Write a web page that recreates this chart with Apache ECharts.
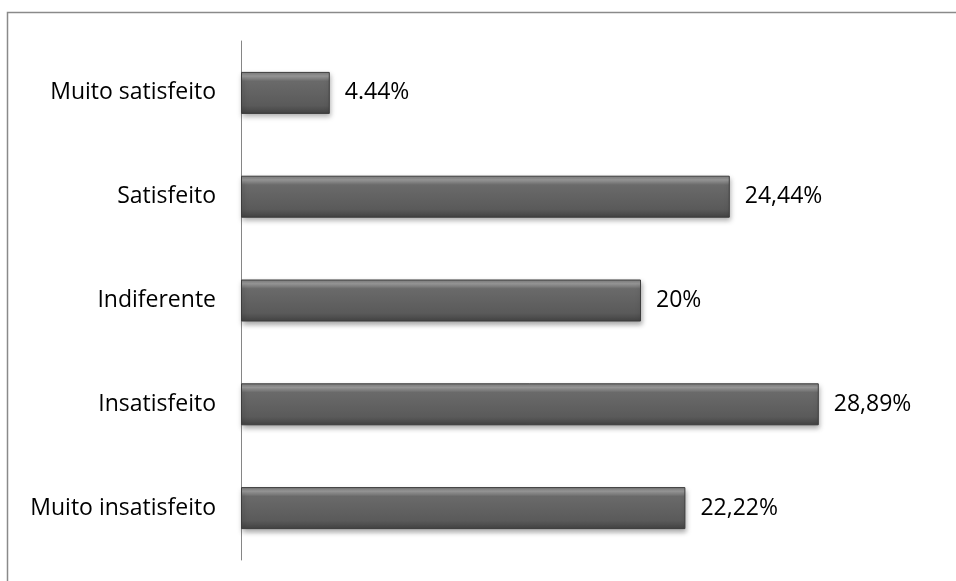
<!DOCTYPE html>
<html>
<head>
<meta charset="utf-8">
<script src="https://cdn.jsdelivr.net/npm/echarts@6/dist/echarts.min.js"></script>
<style>
html,body{margin:0;padding:0;background:#fff;}
#chart{width:956px;height:581px;}
</style>
</head>
<body>
<div id="chart"></div>
<script>
var categories = ["Muito insatisfeito", "Insatisfeito", "Indiferente", "Satisfeito", "Muito satisfeito"];
var values = [22.22, 28.89, 20, 24.44, 4.44];
var valueLabels = ["22,22%", "28,89%", "20%", "24,44%", "4.44%"];

var chart = echarts.init(document.getElementById('chart'));
var fontFam = '"Open Sans", Lato, sans-serif';
chart.setOption({
  animation: false,
  backgroundColor: '#ffffff',
  graphic: [{
    type: 'rect',
    shape: {x: 7.5, y: 12.5, width: 1200, height: 800},
    style: {fill: 'none', stroke: '#8a8a8a', lineWidth: 1.5},
    silent: true
  }],
  grid: {left: 241, top: 41, width: 600, height: 519},
  xAxis: {
    type: 'value', min: 0, max: 30, show: false
  },
  yAxis: {
    type: 'category',
    data: categories,
    axisLine: {show: true, lineStyle: {color: '#868686', width: 1}},
    axisTick: {show: false},
    axisLabel: {color: '#000', fontSize: 23, fontFamily: fontFam, margin: 25, padding: [6, 0, 0, 0]}
  },
  series: [{
    type: 'bar',
    data: values,
    barWidth: 42,
    itemStyle: {
      color: new echarts.graphic.LinearGradient(0, 0, 0, 1, [
        {offset: 0, color: '#7a7a7a'},
        {offset: 0.1, color: '#9c9c9c'},
        {offset: 0.22, color: '#6a6a6a'},
        {offset: 0.8, color: '#5a5a5a'},
        {offset: 1, color: '#424242'}
      ]),
      borderColor: '#3c3c3c',
      borderWidth: 1,
      shadowColor: 'rgba(0,0,0,0.35)',
      shadowBlur: 5,
      shadowOffsetY: 3,
      shadowOffsetX: 1
    },
    label: {
      show: true,
      position: 'right',
      distance: 15,
      color: '#000',
      fontSize: 23,
      fontFamily: fontFam,
      padding: [6, 0, 0, 0],
      formatter: function (p) { return valueLabels[p.dataIndex]; }
    }
  }]
});
</script>
</body>
</html>
